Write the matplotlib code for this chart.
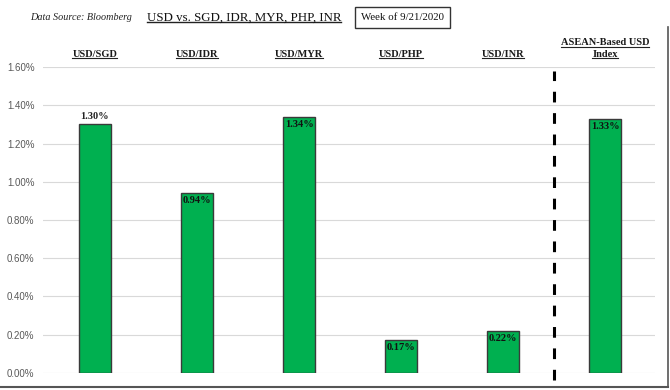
import matplotlib.pyplot as plt
from matplotlib.lines import Line2D
from matplotlib.ticker import FuncFormatter

# data
pairs = ['USD/SGD', 'USD/IDR', 'USD/MYR', 'USD/PHP', 'USD/INR', 'ASEAN-Based USD\nIndex']
changes = [1.30, 0.94, 1.34, 0.17, 0.22, 1.33]
label_above = [True, False, False, False, False, False]

serif = 'Liberation Serif'
sans = 'Liberation Sans'

fig = plt.figure(figsize=(6.7, 3.9), dpi=100)
ax = fig.add_axes([0.064, 0.044, 0.914, 0.784])

x = list(range(len(pairs)))
ax.bar(x, changes, width=0.31, color='#00b050', edgecolor='#3a3a3a', linewidth=1.0, zorder=3)

for xi, v, above in zip(x, changes, label_above):
    if above:
        ax.text(xi, v + 0.02, f'{v:.2f}%', ha='center', va='bottom',
                fontsize=7.5, fontweight='bold', family=serif, color='#222222')
    else:
        ax.text(xi, v - 0.015, f'{v:.2f}%', ha='center', va='top',
                fontsize=7.5, fontweight='bold', family=serif, color='#111111', zorder=4)

ax.set_xlim(-0.51, 5.49)
ax.set_ylim(0, 1.6)
ax.set_yticks([i * 0.2 for i in range(9)])
ax.yaxis.set_major_formatter(FuncFormatter(lambda v, p: f'{v:.2f}%'))
ax.set_xticks([])
for lab in ax.get_yticklabels():
    lab.set_family(sans)
    lab.set_fontsize(7)
    lab.set_color('#595959')
ax.tick_params(axis='y', length=0, pad=6)
ax.grid(axis='y', color='#d9d9d9', linewidth=0.8, zorder=0)
for s in ax.spines.values():
    s.set_visible(False)

# dashed separator
ax.plot([4.5, 4.5], [-0.04, 1.58], linestyle=(0, (3.5, 3.5)), color='black',
        linewidth=2.2, clip_on=False, zorder=2)

# category headers
cat_texts = []
for xi, name in zip(x, pairs):
    t = ax.text(xi, 1.64, name, ha='center', va='bottom', fontsize=7.5,
                fontweight='bold', family=serif, color='#1a1a1a',
                linespacing=1.5, transform=ax.transData)
    cat_texts.append(t)

# title row
src = fig.text(0.045, 0.955, 'Data Source: Bloomberg', fontsize=7.3, style='italic',
               family=serif, va='center', ha='left', color='#222222')
title = fig.text(0.219, 0.955, 'USD vs. SGD, IDR, MYR, PHP, INR', fontsize=9.3,
                 family=serif, va='center', ha='left', color='#111111')
fig.text(0.601, 0.955, 'Week of 9/21/2020', fontsize=7.8, family=serif, va='center',
         ha='center', color='#111111',
         bbox=dict(boxstyle='square,pad=0.55', facecolor='white', edgecolor='#333333', linewidth=1))

# underline title and headers
fig.canvas.draw()
renderer = fig.canvas.get_renderer()
inv = fig.transFigure.inverted()


def underline(t, lw):
    txt = t.get_text().split('\n')
    bb = t.get_window_extent(renderer)
    (x0, y0), (x1, y1) = inv.transform([[bb.x0, bb.y0], [bb.x1, bb.y1]])
    n = len(txt)
    h = (y1 - y0) / n
    for i, line in enumerate(txt):
        tmp = fig.text(0, 0, line, fontsize=t.get_fontsize(), fontweight=t.get_fontweight(),
                       family=t.get_family())
        w = tmp.get_window_extent(renderer).width / fig.bbox.width
        tmp.remove()
        if t.get_ha() == 'left':
            xa, xb = x0, x0 + w
        else:
            cx = (x0 + x1) / 2
            xa, xb = cx - w / 2, cx + w / 2
        yy = y1 - h * (i + 1) + 0.004
        fig.add_artist(Line2D([xa, xb], [yy, yy], color='#222222',
                              linewidth=lw, transform=fig.transFigure))


underline(title, 1.0)
for t in cat_texts:
    underline(t, 0.8)

# outer frame edges
fig.add_artist(Line2D([0, 0.997], [0.008, 0.008], color='#555555', linewidth=1.5,
                      transform=fig.transFigure))
fig.add_artist(Line2D([0.997, 0.997], [0.008, 0.93], color='#555555', linewidth=1.2,
                      transform=fig.transFigure))

fig.savefig('out.png', dpi=100)
